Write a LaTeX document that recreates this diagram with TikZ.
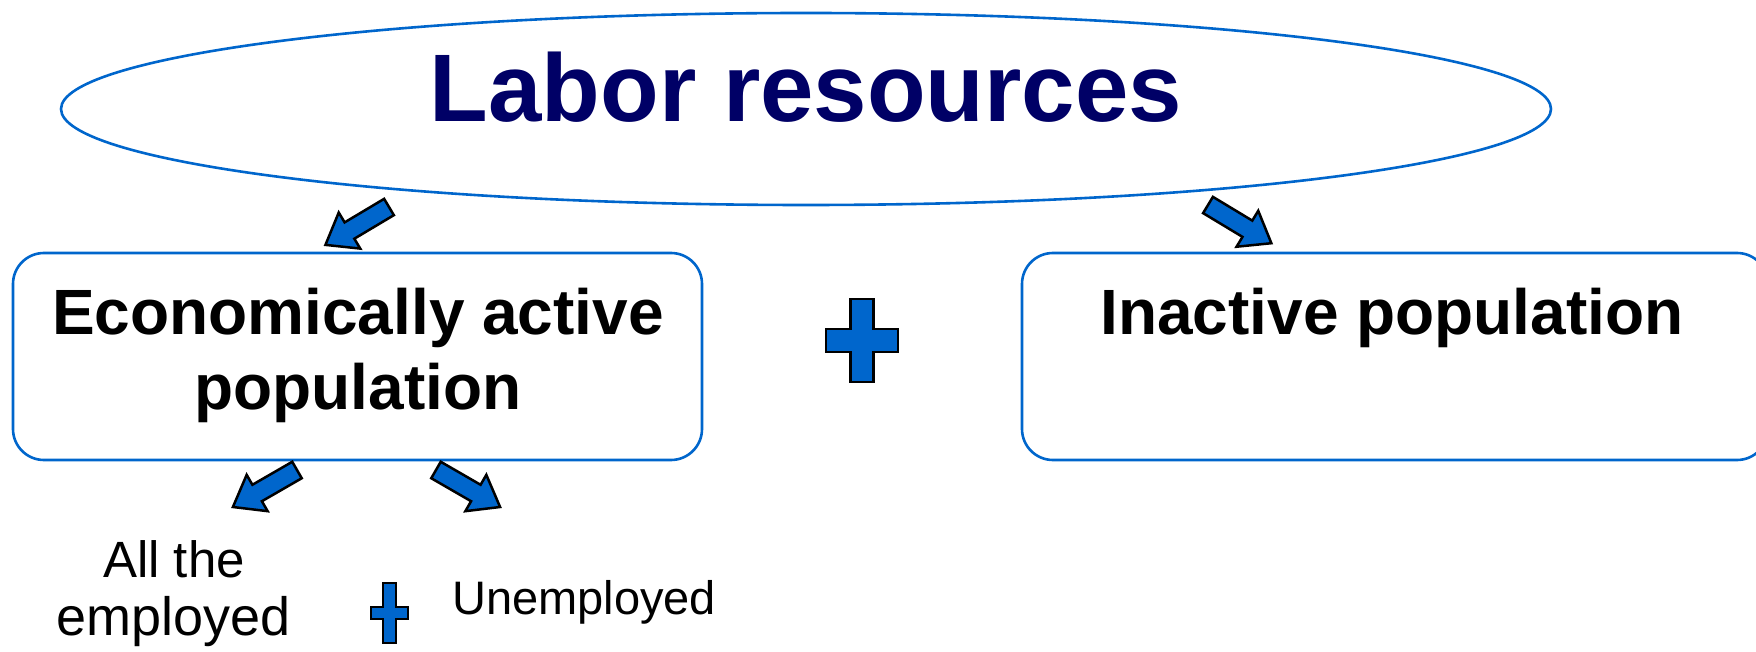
\documentclass[tikz,border=0pt]{standalone}
\usepackage{fontspec}
\setmainfont{Liberation Sans}
\definecolor{lineblue}{RGB}{0,102,204}
\definecolor{navy}{RGB}{0,0,102}
\tikzset{
  boxline/.style={draw=lineblue, line width=2.6pt},
  rbox/.style={boxline, rounded corners=31pt},
  shapefill/.style={fill=lineblue, draw=black, line width=2.5pt, line join=miter},
  blockarrow/.pic={\path[shapefill] (0,-9.5) -- (46,-9.5) -- (46,-21) -- (74,0) -- (46,21) -- (46,9.5) -- (0,9.5) -- cycle;},
  bigtext/.style={font=\fontsize{64}{75}\selectfont\bfseries, inner sep=0pt, anchor=base},
  smalltext/.style={inner sep=0pt, anchor=base},
}
\begin{document}
\begin{tikzpicture}[x=1pt,y=1pt]
\useasboundingbox (0,0) rectangle (1756,651);
\clip (0,0) rectangle (1756,651);
\fill[white] (0,0) rectangle (1756,651);
% ellipse
\draw[boxline] (806,542) ellipse [x radius=745, y radius=96];
\node[font=\fontsize{96}{110}\selectfont\bfseries, text=navy, inner sep=0pt, anchor=base] (title) at (806,529) {Labor resources};
% boxes
\draw[rbox] (13,191) rectangle (702,398);
\draw[rbox] (1022,191) rectangle (1768,398);
\node[bigtext] (eap1) at (358,316) {Economically active};
\node[bigtext] (eap2) at (358,241) {population};
\node[bigtext] (inact) at (1392,316) {Inactive population};
% arrows
\pic[rotate=210.8] at (389,444) {blockarrow};
\pic[rotate=-31.1] at (1208,446) {blockarrow};
\pic[rotate=210] at (297,181) {blockarrow};
\pic[rotate=-30] at (436,181) {blockarrow};
% big plus
\path[shapefill] (850.5,352) -- (873.5,352) -- (873.5,322) -- (898,322) -- (898,299) -- (873.5,299) -- (873.5,269) -- (850.5,269) -- (850.5,299) -- (826,299) -- (826,322) -- (850.5,322) -- cycle;
% small plus
\path[shapefill, line width=2pt] (383,68) -- (396,68) -- (396,44) -- (408,44) -- (408,32) -- (396,32) -- (396,8) -- (383,8) -- (383,32) -- (371,32) -- (371,44) -- (383,44) -- cycle;
% lower texts
\node[smalltext, font=\fontsize{51}{58}\selectfont] (allthe) at (174,74) {All the};
\node[smalltext, font=\fontsize{54}{58}\selectfont] (employed) at (174,16) {employed};
\node[smalltext, font=\fontsize{47}{56}\selectfont, anchor=base west] (unemp) at (452,37) {Unemployed};
\end{tikzpicture}
\end{document}
